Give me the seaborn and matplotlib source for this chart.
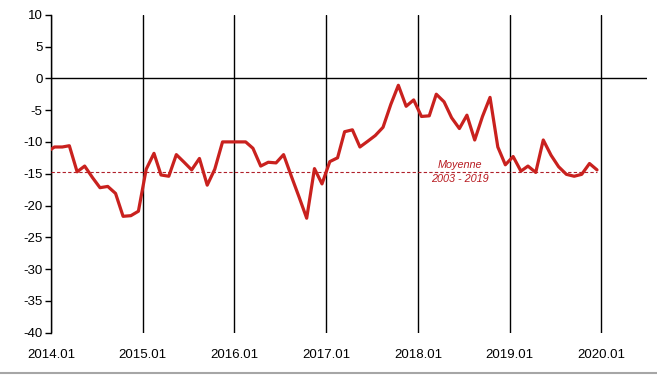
import matplotlib
matplotlib.use("Agg")
import matplotlib.pyplot as plt
import matplotlib.dates as mdates
import seaborn as sns
import pandas as pd
import numpy as np

sns.set_theme(style="white")
plt.rcParams['font.family'] = ['Liberation Sans', 'DejaVu Sans']

# Monthly values (Dec 2013 .. Dec 2019), plotted mid-month
start_month = "2013-12-01"
values = [
    -11.6,
    -10.8, -10.8, -10.6, -14.7, -13.8, -15.6, -17.2, -17.0, -18.1, -21.7, -21.6, -20.9,
    -14.3, -11.8, -15.2, -15.4, -12.0, -13.2, -14.4, -12.6, -16.8, -14.3, -10.0, -10.0,
    -10.0, -10.0, -11.0, -13.8, -13.2, -13.3, -12.0, -15.4, -18.7, -22.0, -14.2, -16.6,
    -13.1, -12.5, -8.4, -8.1, -10.8, -9.9, -9.0, -7.7, -4.1, -1.1, -4.4, -3.4,
    -6.0, -5.9, -2.5, -3.7, -6.2, -7.9, -5.8, -9.7, -6.0, -3.0, -10.8, -13.6,
    -12.3, -14.6, -13.8, -14.8, -9.7, -12.1, -13.9, -15.1, -15.4, -15.1, -13.4, -14.4,
]
mean_value = -14.8
mean_label = "Moyenne\n2003 - 2019"
year_ticks = ["2014-01-01", "2015-01-01", "2016-01-01", "2017-01-01",
              "2018-01-01", "2019-01-01", "2020-01-01"]
y_ticks = [10, 5, 0, -5, -10, -15, -20, -25, -30, -35, -40]

dates = pd.date_range(start=start_month, periods=len(values), freq="MS") + pd.Timedelta(days=14)
df = pd.DataFrame({"date": dates, "value": values})

red = "#C9211E"
fig = plt.figure(figsize=(6.57, 3.76), dpi=100)
ax = fig.add_axes([51/657, 1-332.7/376, (647-51)/657, (332.7-14.7)/376])

sns.lineplot(data=df, x="date", y="value", ax=ax, color=red, linewidth=2.3, zorder=5)

# mean dashed line
ax.plot([pd.Timestamp("2014-01-01"), dates[-1]], [mean_value, mean_value],
        color="#B0202A", linewidth=0.8, linestyle=(0, (3, 2)), zorder=4)
ax.text(pd.Timestamp("2018-06-17"), mean_value + 0.1, mean_label, color="#B81C22",
        fontsize=7.8, style="italic", ha="center", va="center", linespacing=1.55, zorder=6)

ax.set_xlim(pd.Timestamp("2014-01-01"), pd.Timestamp("2020-07-01"))
ax.set_ylim(-40, 10)
ax.set_yticks(y_ticks)
ax.set_yticklabels([str(v) for v in y_ticks])
ax.set_xticks([pd.Timestamp(t) for t in year_ticks])
ax.xaxis.set_major_formatter(mdates.DateFormatter("%Y.%m"))

for t in year_ticks:
    ax.axvline(pd.Timestamp(t), color="black", linewidth=1.0, zorder=3)
ax.axhline(0, color="black", linewidth=1.0, zorder=3)

for s in ["top", "right", "bottom"]:
    ax.spines[s].set_visible(False)
ax.spines["left"].set_color("black")
ax.spines["left"].set_linewidth(1.0)

ax.tick_params(axis="y", left=True, length=4, width=1, color="black",
               labelsize=9.5, labelcolor="black", pad=2)
ax.tick_params(axis="x", bottom=False, length=0, labelsize=9.5, labelcolor="black", pad=12)
ax.set_xlabel("")
ax.set_ylabel("")
ax.grid(False)

# bottom grey frame line
fig.add_artist(plt.Line2D([0, 1], [1-373/376, 1-373/376], color="#A6A6A6", linewidth=1.5,
                          transform=fig.transFigure))

fig.savefig("out.png", dpi=100)
